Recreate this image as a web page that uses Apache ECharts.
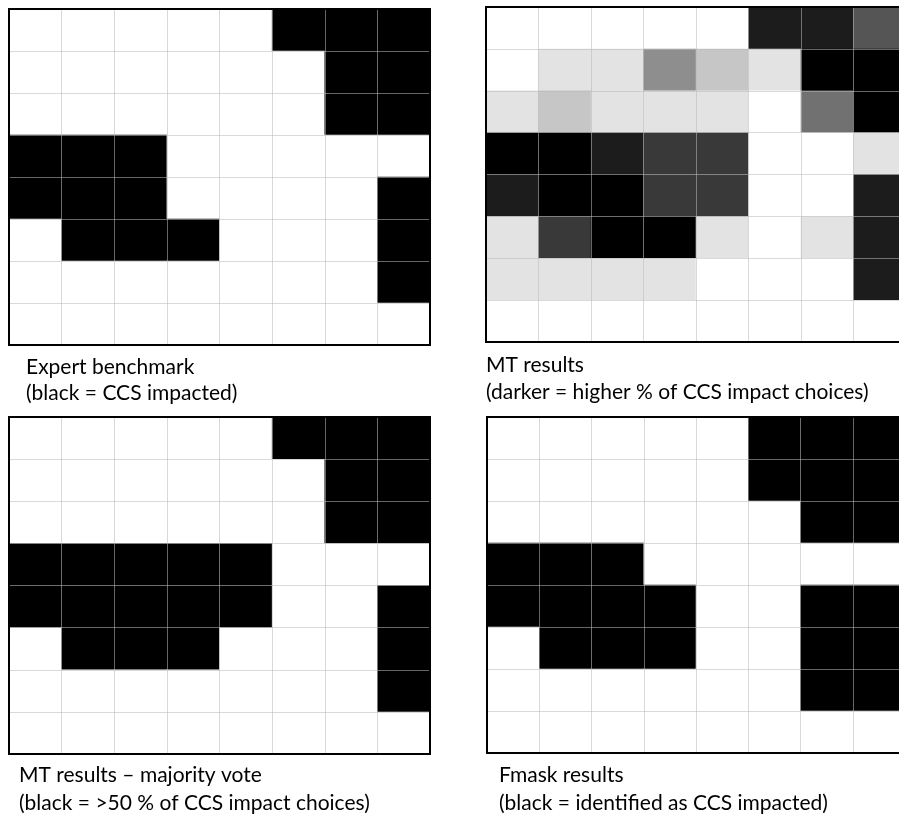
<!DOCTYPE html>
<html><head><meta charset="utf-8">
<script src="https://cdn.jsdelivr.net/npm/echarts@6/dist/echarts.min.js"></script>
<style>html,body{margin:0;padding:0;background:#fff}#c{width:899px;height:821px}</style>
</head><body><div id="c"></div>
<script>
// 8 columns x 8 rows grid
var cols = ['c1','c2','c3','c4','c5','c6','c7','c8'];
var rows = ['r1','r2','r3','r4','r5','r6','r7','r8'];

// Expert benchmark (1 = CCS impacted)
var expert = [
  [0,0,0,0,0,1,1,1],
  [0,0,0,0,0,0,1,1],
  [0,0,0,0,0,0,1,1],
  [1,1,1,0,0,0,0,0],
  [1,1,1,0,0,0,0,1],
  [0,1,1,1,0,0,0,1],
  [0,0,0,0,0,0,0,1],
  [0,0,0,0,0,0,0,0]
];
// MT results: number of CCS-impact choices out of 9
var mtVotes = [
  [0,0,0,0,0,8,8,6],
  [0,1,1,4,2,1,9,9],
  [1,2,1,1,1,0,5,9],
  [9,9,8,7,7,0,0,1],
  [8,9,9,7,7,0,0,8],
  [1,7,9,9,1,0,1,8],
  [1,1,1,1,0,0,0,8],
  [0,0,0,0,0,0,0,0]
];
var mtMax = 9;
// MT majority vote (1 = >50 %)
var majority = [
  [0,0,0,0,0,1,1,1],
  [0,0,0,0,0,0,1,1],
  [0,0,0,0,0,0,1,1],
  [1,1,1,1,1,0,0,0],
  [1,1,1,1,1,0,0,1],
  [0,1,1,1,0,0,0,1],
  [0,0,0,0,0,0,0,1],
  [0,0,0,0,0,0,0,0]
];
// Fmask (1 = identified as CCS impacted)
var fmask = [
  [0,0,0,0,0,1,1,1],
  [0,0,0,0,0,1,1,1],
  [0,0,0,0,0,0,1,1],
  [1,1,1,0,0,0,0,0],
  [1,1,1,1,0,0,1,1],
  [0,1,1,1,0,0,1,1],
  [0,0,0,0,0,0,1,1],
  [0,0,0,0,0,0,0,0]
];

var captions = [
  ['Expert benchmark', '(black = CCS impacted)'],
  ['MT results', '(darker = higher % of CCS impact choices)'],
  ['MT results \u2013 majority vote', '(black = >50 % of CCS impact choices)'],
  ['Fmask results', '(black = identified as CCS impacted)']
];

function toCells(m){
  var out = [];
  for (var r = 0; r < m.length; r++)
    for (var c = 0; c < m[r].length; c++) out.push([c, r, m[r][c]]);
  return out;
}

var grids = [
  {left: 9,   top: 9,   width: 421, height: 336},
  {left: 486, top: 7,   width: 420, height: 335},
  {left: 9,   top: 417, width: 421, height: 337},
  {left: 487, top: 417, width: 418, height: 336}
];
var capPos = [
  {left: 26, top: 354, lh: 26},
  {left: 486, top: 352, lh: 27},
  {left: 19, top: 761, lh: 28},
  {left: 499, top: 761, lh: 28}
];
var datasets = [expert, mtVotes, majority, fmask];

var lineStyle = {color: 'rgba(185,185,185,0.55)', width: 1};
var option = {
  animation: false,
  backgroundColor: '#fff',
  grid: grids.map(function(g){
    return Object.assign({show: true, outerBoundsMode: 'none', containLabel: false, borderColor: '#000', borderWidth: 2, backgroundColor: 'transparent', z: 10}, g);
  }),
  xAxis: grids.map(function(g, i){
    return {type: 'category', data: cols, gridIndex: i, z: 5,
      axisLine: {show: false}, axisTick: {show: false}, axisLabel: {show: false},
      splitLine: {show: true, interval: 0, lineStyle: lineStyle}};
  }),
  yAxis: grids.map(function(g, i){
    return {type: 'category', data: rows, gridIndex: i, inverse: true, z: 5,
      axisLine: {show: false}, axisTick: {show: false}, axisLabel: {show: false},
      splitLine: {show: true, interval: 0, lineStyle: lineStyle}};
  }),
  visualMap: [
    {type: 'continuous', show: false, min: 0, max: 1, seriesIndex: [0, 2, 3], inRange: {color: ['#ffffff', '#000000']}},
    {type: 'continuous', show: false, min: 0, max: mtMax, seriesIndex: [1], inRange: {color: ['#ffffff', '#000000']}}
  ],
  title: captions.map(function(c, i){
    return {text: c[0] + '\n' + c[1], left: capPos[i].left, top: capPos[i].top, padding: 0,
      textStyle: {fontFamily: 'Lato', fontWeight: 'normal', fontSize: 21, lineHeight: capPos[i].lh, color: '#000'}};
  }),
  series: datasets.map(function(d, i){
    return {type: 'heatmap', xAxisIndex: i, yAxisIndex: i, data: toCells(d),
      itemStyle: {borderWidth: 0}, emphasis: {disabled: true}};
  })
};
echarts.init(document.getElementById('c')).setOption(option);
</script>
</body></html>
